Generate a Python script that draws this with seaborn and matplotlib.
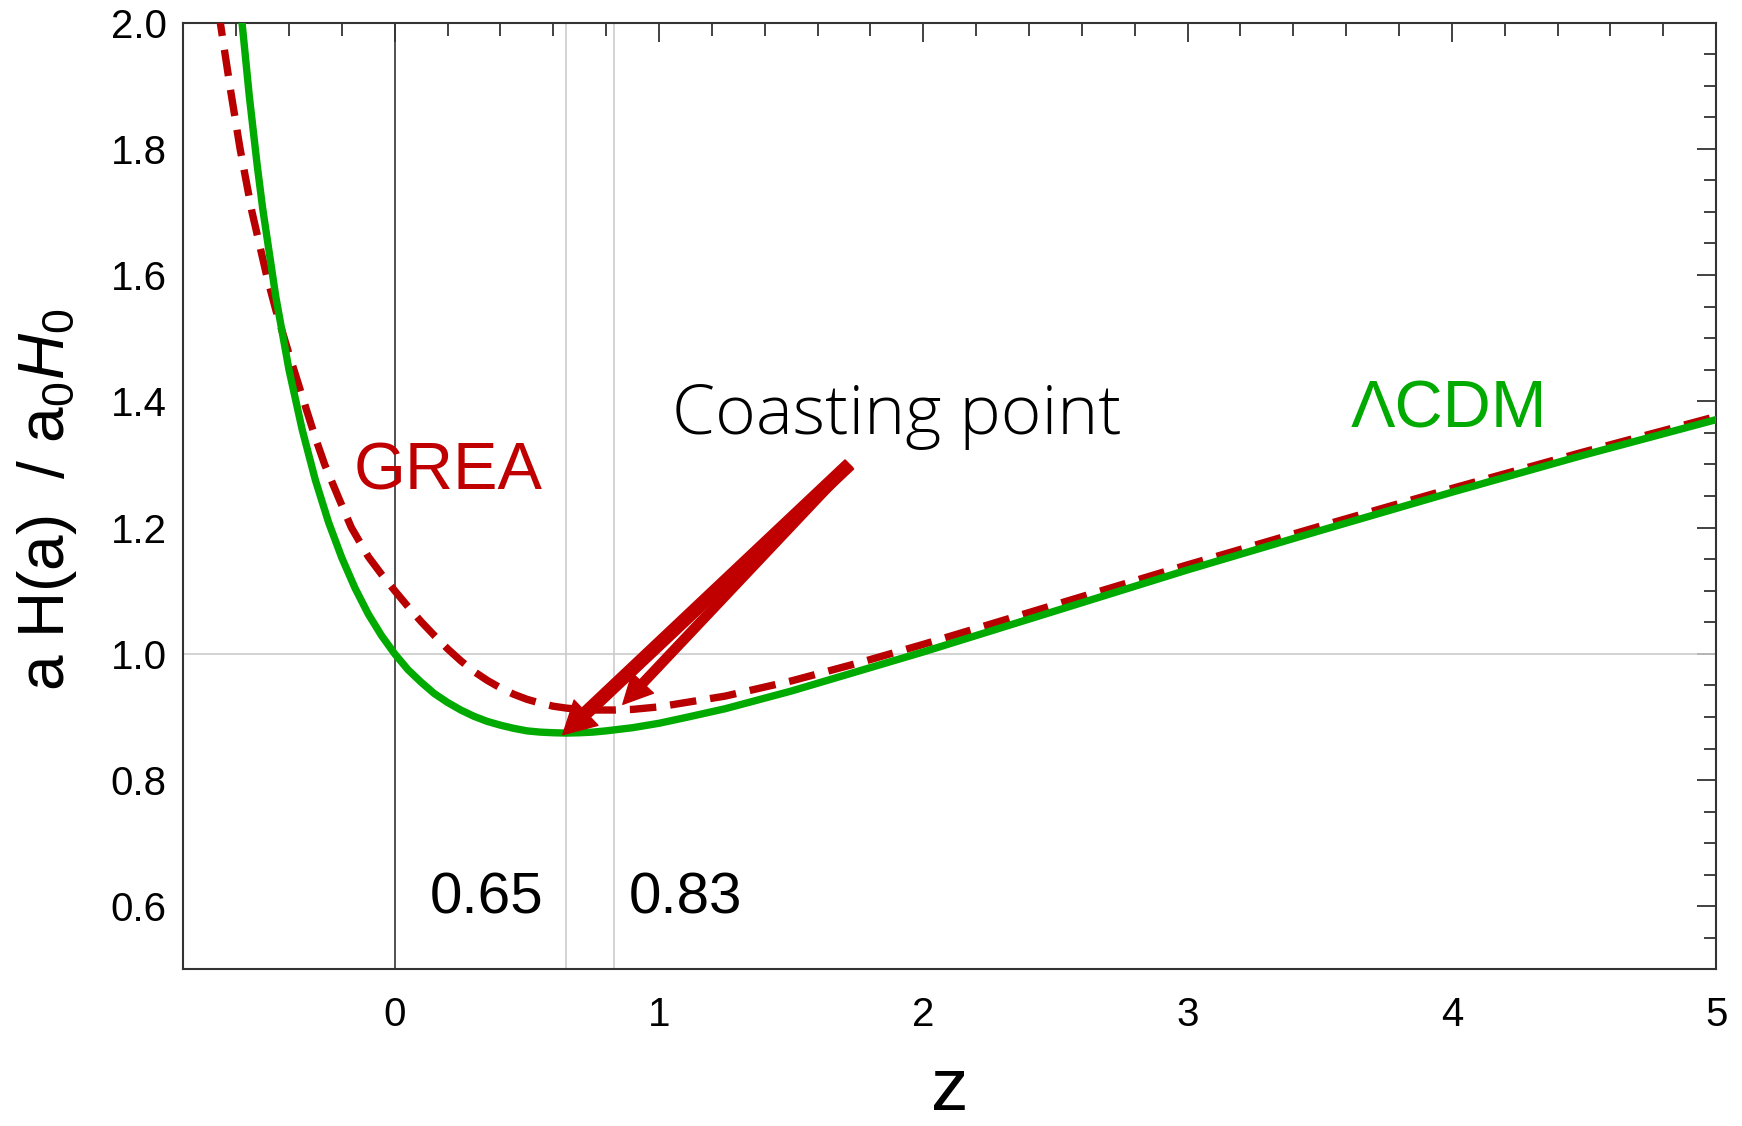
# ============================================
# aH / a0H0 vs z  -  GREA vs LCDM
# ============================================

import pandas as pd
import matplotlib
matplotlib.use("Agg")
import matplotlib.pyplot as plt
from matplotlib.ticker import MultipleLocator, FormatStrFormatter
import seaborn as sns

# ============================================
# DATA
# ============================================

z_lcdm = [-0.58, -0.55, -0.52, -0.50, -0.45, -0.40, -0.35, -0.30, -0.25,
          -0.20, -0.15, -0.10, -0.05, 0.00, 0.05, 0.10, 0.15, 0.20, 0.25,
          0.30, 0.35, 0.40, 0.45, 0.50, 0.55, 0.60, 0.65, 0.70, 0.75,
          0.80, 0.90, 1.00, 1.10, 1.25, 1.50, 1.75, 2.00, 2.50, 3.00,
          3.50, 4.00, 4.50, 5.00]
h_lcdm = [2.010, 1.883, 1.773, 1.707, 1.566, 1.450, 1.355, 1.275, 1.208,
          1.152, 1.104, 1.063, 1.029, 1.000, 0.975, 0.955, 0.937, 0.923, 0.911,
          0.901, 0.893, 0.887, 0.882, 0.878, 0.876, 0.875, 0.8745, 0.875, 0.876,
          0.878, 0.883, 0.890, 0.899, 0.913, 0.941, 0.972, 1.003, 1.068, 1.133,
          1.195, 1.256, 1.315, 1.371]

z_grea = [-0.67, -0.66, -0.62, -0.585, -0.54, -0.485, -0.45, -0.40, -0.344,
          -0.30, -0.265, -0.21, -0.164, -0.10, -0.05, 0.00, 0.05, 0.10, 0.15,
          0.20, 0.25, 0.30, 0.35, 0.40, 0.45, 0.50, 0.55, 0.60, 0.65,
          0.70, 0.76, 0.83, 0.90, 1.00, 1.25, 1.50, 1.75, 2.00, 2.50,
          3.00, 3.50, 4.00, 4.50, 5.00]
h_grea = [2.020, 2.000, 1.890, 1.800, 1.700, 1.600, 1.545, 1.475, 1.400,
          1.342, 1.300, 1.245, 1.200, 1.154, 1.126, 1.100, 1.075, 1.051, 1.029,
          1.008, 0.989, 0.972, 0.958, 0.946, 0.936, 0.928, 0.922, 0.917, 0.914,
          0.912, 0.911, 0.911, 0.912, 0.916, 0.933, 0.957, 0.985, 1.015, 1.078,
          1.141, 1.202, 1.262, 1.320, 1.376]

z_marks = [0.65, 0.83]
mark_labels = ["0.65", "0.83"]

df_lcdm = pd.DataFrame({"z": z_lcdm, "h": h_lcdm})
df_grea = pd.DataFrame({"z": z_grea, "h": h_grea})

# ============================================
# STYLE
# ============================================

sns.set_style("white")
plt.rcParams["font.family"] = ["Liberation Sans", "DejaVu Sans"]
plt.rcParams["mathtext.fontset"] = "custom"
plt.rcParams["mathtext.rm"] = "Liberation Sans"
plt.rcParams["mathtext.it"] = "Liberation Sans:italic"
plt.rcParams["text.color"] = "black"
plt.rcParams["axes.labelcolor"] = "black"
plt.rcParams["xtick.color"] = "black"
plt.rcParams["ytick.color"] = "black"

red = "#b80000"
green = "#00aa00"

fig = plt.figure(figsize=(17.42, 11.26), dpi=100)
ax = fig.add_axes([0.1052, 0.139, 0.880, 0.841])

# reference lines
ax.axvline(0, color="#333333", lw=1.2, zorder=1)
for zm in z_marks:
    ax.axvline(zm, color="#cccccc", lw=1.2, zorder=1)
ax.axhline(1.0, color="#cccccc", lw=1.2, zorder=1)

# ============================================
# CURVES
# ============================================

sns.lineplot(data=df_grea, x="z", y="h", ax=ax, color=red, lw=5.3,
             linestyle=(0, (3.6, 1.9)), estimator=None, sort=False, zorder=3)
sns.lineplot(data=df_lcdm, x="z", y="h", ax=ax, color=green, lw=5.3,
             estimator=None, sort=False, zorder=4)

# ============================================
# TEXTS AND ARROWS
# ============================================

ax.text(0.202, 1.261, "GREA", color="#c00000", fontsize=48,
        ha="center", va="baseline")
ax.text(3.99, 1.359, "ΛCDM", color=green, fontsize=48,
        ha="center", va="baseline")
ax.text(1.898, 1.349, "Coasting point", color="black", fontsize=50,
        family=["Open Sans", "DejaVu Sans"], fontweight="light",
        ha="center", va="baseline")

ax.text(0.348, 0.588, mark_labels[0], fontsize=42, ha="center", va="baseline")
ax.text(1.10, 0.588, mark_labels[1], fontsize=42, ha="center", va="baseline")

tail = (1.72, 1.30)
ax.annotate("", xy=(0.636, 0.872), xytext=tail, zorder=6,
            arrowprops=dict(arrowstyle="simple,head_length=23,head_width=25,tail_width=9",
                            color="#c00000", mutation_scale=1,
                            shrinkA=0, shrinkB=0))
ax.annotate("", xy=(0.863, 0.920), xytext=tail, zorder=6,
            arrowprops=dict(arrowstyle="simple,head_length=21,head_width=21,tail_width=6.5",
                            color="#c00000", mutation_scale=1,
                            shrinkA=0, shrinkB=0))

# ============================================
# AXES
# ============================================

ax.set_xlim(-0.8, 5.0)
ax.set_ylim(0.5, 2.0)
ax.xaxis.set_major_locator(MultipleLocator(1))
ax.xaxis.set_minor_locator(MultipleLocator(0.2))
ax.yaxis.set_major_locator(MultipleLocator(0.2))
ax.yaxis.set_minor_locator(MultipleLocator(0.05))
ax.yaxis.set_major_formatter(FormatStrFormatter("%.1f"))

ax.tick_params(which="both", direction="in", top=True, right=True,
               width=1.3, color="#333333", labelsize=29)
ax.tick_params(axis="x", which="both", pad=19)
ax.tick_params(axis="y", which="both", pad=12)
ax.tick_params(which="major", length=14)
ax.tick_params(which="minor", length=9)

for s in ax.spines.values():
    s.set_color("#333333")
    s.set_linewidth(1.5)

ax.set_xlabel("z", fontsize=54, labelpad=16)
ax.set_ylabel(r"a H(a)  / a$_0$$\mathit{H}_0$", fontsize=46)
ax.yaxis.set_label_coords(-0.068, 0.496)

fig.savefig("out.png", dpi=100)
